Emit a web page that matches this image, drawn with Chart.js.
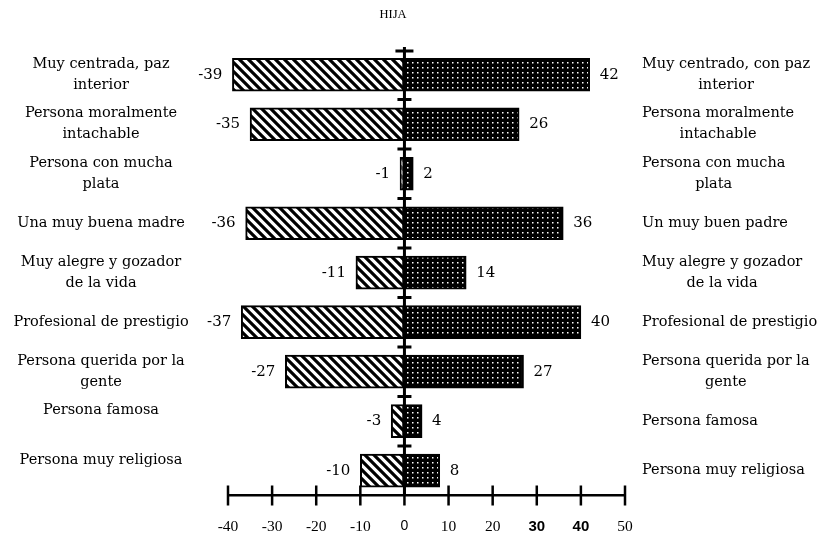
<!DOCTYPE html>
<html>
<head>
<meta charset="utf-8">
<script src="https://cdn.jsdelivr.net/npm/chart.js@4.4.1/dist/chart.umd.min.js"></script>
<style>
    html, body { margin: 0; padding: 0; background: #fff; }
    #wrap { width: 824px; height: 538px; position: relative; }
</style>
</head>
<body>
<div id="wrap"><canvas id="chart"></canvas></div>
<script>
// datos del gráfico
const tituloGrafico = 'HIJA';
const rasgosMadre = [
    ['Muy centrada, paz', 'interior'],
    ['Persona moralmente', 'intachable'],
    ['Persona con mucha', 'plata'],
    ['Una muy buena madre'],
    ['Muy alegre y gozador', 'de la vida'],
    ['Profesional de prestigio'],
    ['Persona querida por la', 'gente'],
    ['Persona famosa', ''],
    ['Persona muy religiosa', '']
];
const rasgosPadre = [
    ['Muy centrado, con paz', 'interior'],
    ['Persona moralmente', 'intachable'],
    ['Persona con mucha', 'plata'],
    ['Un muy buen padre'],
    ['Muy alegre y gozador', 'de la vida'],
    ['Profesional de prestigio'],
    ['Persona querida por la', 'gente'],
    ['Persona famosa'],
    ['Persona muy religiosa']
];
const valoresMadre = [-39, -35, -1, -36, -11, -37, -27, -3, -10];
const valoresPadre = [42, 26, 2, 36, 14, 40, 27, 4, 8];
const ejeMin = -40;
const ejeMax = 50;
const ejePaso = 10;
const ticksNegrita = [30, 40];

const SERIF = "'DejaVu Serif', serif";

// trama rayada (madre)
function tramaRayada() {
    const s = 9;
    const c = document.createElement('canvas');
    c.width = s; c.height = s;
    const g = c.getContext('2d');
    g.fillStyle = '#fff';
    g.fillRect(0, 0, s, s);
    g.strokeStyle = '#000';
    g.lineWidth = 3.2;
    g.beginPath();
    g.moveTo(-1, -1); g.lineTo(s + 1, s + 1);
    g.moveTo(s - 2, -2); g.lineTo(s + 2, 2);
    g.moveTo(-2, s - 2); g.lineTo(2, s + 2);
    g.stroke();
    return g.createPattern(c, 'repeat');
}

// trama punteada oscura (padre)
function tramaPuntos() {
    const c = document.createElement('canvas');
    c.width = 5; c.height = 5;
    const g = c.getContext('2d');
    g.fillStyle = '#000';
    g.fillRect(0, 0, 5, 5);
    g.fillStyle = '#fff';
    g.fillRect(2, 2, 1.5, 1.5);
    return g.createPattern(c, 'repeat');
}

// etiquetas, eje central y marcas
const decoraciones = {
    id: 'decoraciones',
    afterDatasetsDraw(chart) {
        const ctx = chart.ctx;
        const xs = chart.scales.x;
        const ys = chart.scales.y;
        const x0 = xs.getPixelForValue(0);
        ctx.save();
        ctx.fillStyle = '#000';
        ctx.strokeStyle = '#000';

        // título
        ctx.font = "12.5px 'Liberation Serif', serif";
        ctx.textAlign = 'center';
        ctx.textBaseline = 'middle';
        ctx.fillText(tituloGrafico, 393, 15);

        // línea central con marcas entre categorías
        ctx.lineWidth = 3;
        ctx.beginPath();
        ctx.moveTo(x0, ys.top - 3);
        ctx.lineTo(x0, ys.bottom);
        ctx.stroke();
        ctx.beginPath();
        ctx.moveTo(x0 - 9, ys.top + 1);
        ctx.lineTo(x0 + 9, ys.top + 1);
        for (let i = 0; i < valoresMadre.length - 1; i++) {
            const yb = (ys.getPixelForValue(i) + ys.getPixelForValue(i + 1)) / 2;
            ctx.moveTo(x0 - 7, yb);
            ctx.lineTo(x0 + 7, yb);
        }
        ctx.stroke();

        // marcas del eje x
        ctx.lineWidth = 2.5;
        ctx.beginPath();
        xs.ticks.forEach(t => {
            const px = xs.getPixelForValue(t.value);
            ctx.moveTo(px, ys.bottom - 10);
            ctx.lineTo(px, ys.bottom + 10);
        });
        ctx.stroke();

        // valores
        ctx.font = '15px ' + SERIF;
        chart.data.datasets.forEach((ds, di) => {
            const meta = chart.getDatasetMeta(di);
            meta.data.forEach((bar, i) => {
                const v = ds.data[i];
                if (v < 0) {
                    ctx.textAlign = 'right';
                    ctx.fillText(String(v), bar.x - 10, bar.y);
                } else {
                    ctx.textAlign = 'left';
                    ctx.fillText(String(v), bar.x + 10, bar.y);
                }
            });
        });

        // rasgos a izquierda y derecha
        ctx.font = '14.5px ' + SERIF;
        const alto = 21;
        ctx.textAlign = 'center';
        rasgosMadre.forEach((lineas, i) => {
            const yc = ys.getPixelForValue(i);
            const y1 = yc - (lineas.length - 1) * alto / 2;
            lineas.forEach((l, k) => ctx.fillText(l, 101, y1 + k * alto));
        });
        rasgosPadre.forEach((lineas, i) => {
            const yc = ys.getPixelForValue(i);
            const y1 = yc - (lineas.length - 1) * alto / 2;
            const ancho = Math.max(...lineas.map(l => ctx.measureText(l).width));
            lineas.forEach((l, k) => ctx.fillText(l, 642 + ancho / 2, y1 + k * alto));
        });
        ctx.restore();
    }
};

const lienzo = document.getElementById('chart');

new Chart(lienzo, {
    type: 'bar',
    data: {
        labels: rasgosMadre.map(l => l.join(' ')),
        datasets: [{
            label: 'Madre',
            data: valoresMadre,
            backgroundColor: tramaRayada(),
            borderColor: '#000',
            borderWidth: 2,
            borderSkipped: false,
            barThickness: 33
        }, {
            label: 'Padre',
            data: valoresPadre,
            backgroundColor: tramaPuntos(),
            borderColor: '#000',
            borderWidth: 2,
            borderSkipped: false,
            barThickness: 33
        }]
    },
    options: {
        indexAxis: 'y',
        responsive: true,
        maintainAspectRatio: false,
        animation: false,
        layout: { padding: { left: 228, right: 199, top: 50, bottom: 0 } },
        plugins: {
            legend: { display: false },
            tooltip: { enabled: false }
        },
        scales: {
            x: {
                min: ejeMin,
                max: ejeMax,
                stacked: true,
                grid: {
                    display: true,
                    drawOnChartArea: false,
                    drawTicks: true,
                    tickLength: 20,
                    color: 'rgba(0,0,0,0)'
                },
                border: { display: true, color: '#000', width: 2.5 },
                ticks: {
                    stepSize: ejePaso,
                    color: '#000',
                    padding: 2,
                    maxRotation: 0,
                    font: (c) => {
                        const v = c.tick ? c.tick.value : null;
                        if (v === 0) return { family: "'Liberation Sans', sans-serif", size: 14 };
                        if (ticksNegrita.includes(v)) return { family: "'Liberation Sans', sans-serif", size: 15, weight: 'bold' };
                        return { family: "'Liberation Serif', serif", size: 15.5 };
                    }
                }
            },
            y: {
                stacked: true,
                display: false
            }
        }
    },
    plugins: [decoraciones]
});
</script>
</body>
</html>
